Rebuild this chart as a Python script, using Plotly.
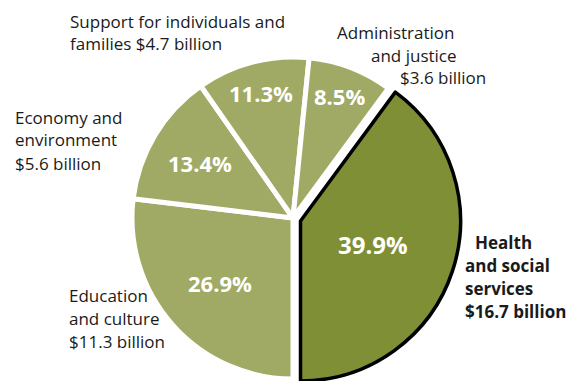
import math
import plotly.graph_objects as go

# Spending by mission, share of total program spending
categories = [
    "Health and social services",
    "Education and culture",
    "Economy and environment",
    "Support for individuals and families",
    "Administration and justice",
]
shares_pct = [39.9, 26.9, 13.4, 11.3, 8.5]
spending_bn = [16.7, 11.3, 5.6, 4.7, 3.6]

# how each outside label is broken into lines ({b} = amount in billions)
label_lines = [
    ["Health", "and social", "services", "${b} billion"],
    ["Education", "and culture", "${b} billion"],
    ["Economy and", "environment", "${b} billion"],
    ["Support for individuals and", "families ${b} billion"],
    ["Administration", "and justice", "${b} billion"],
]

W, H = 568, 381
LIGHT = "#a1aa65"
DARK = "#7f8f35"
CLEAR = "rgba(0,0,0,0)"
FONT = "Open Sans"

# the health slice closes at 6 o'clock; slices run clockwise
rotation = 180 - shares_pct[0] * 3.6

R = 161
main_c = (293, 218)      # pixel centre of the pie
health_c = (300.5, 221)  # centre of the pulled-out health slice
health_r = 160


def domain(c, r):
    cx, cy = c
    return dict(x=[(cx - r) / W, (cx + r) / W],
                y=[max(0, 1 - (cy + r) / H), min(1, 1 - (cy - r) / H)])


n = len(shares_pct)
fig = go.Figure()

# light slices, separated by white borders
fig.add_trace(go.Pie(
    values=shares_pct, labels=categories, sort=False, direction="clockwise",
    rotation=rotation, textinfo="none", hoverinfo="label+percent",
    showlegend=False, domain=domain(main_c, R),
    marker=dict(colors=[CLEAR] + [LIGHT] * (n - 1),
                line=dict(color="white", width=[0] + [5] * (n - 1))),
))

# the health slice, outlined in black and set apart from the rest
fig.add_trace(go.Pie(
    values=shares_pct, labels=categories, sort=False, direction="clockwise",
    rotation=rotation, textinfo="none", hoverinfo="label+percent",
    showlegend=False, domain=domain(health_c, health_r),
    marker=dict(colors=[DARK] + [CLEAR] * (n - 1),
                line=dict(color="black", width=[3.5] + [0] * (n - 1))),
))

annotations = []

# percentage labels inside the slices, placed along each slice's mid-angle
radial_frac = [0.475, 0.61, 0.67, 0.80, 0.81]
pct_size = [24, 22, 22, 22, 22]
start = rotation
for i, p in enumerate(shares_pct):
    mid = math.radians(start + p * 3.6 / 2)
    start += p * 3.6
    (cx, cy), r = (health_c, health_r) if i == 0 else (main_c, R)
    px = cx + radial_frac[i] * r * math.sin(mid)
    py = cy - radial_frac[i] * r * math.cos(mid)
    annotations.append(dict(
        x=px / W, y=1 - py / H, xref="paper", yref="paper",
        text=f"<b>{p}%</b>", showarrow=False, xanchor="center", yanchor="middle",
        font=dict(family=FONT, size=pct_size[i], color="white"),
    ))

# outside labels: left edge of each line and centre of the first line
label_anchor = [
    ([473, 463, 463, 463], 242, True),
    ([67, 67, 67], 295, False),
    ([13, 13, 13], 117, False),
    ([68, 68], 21, False),
    ([335, 369, 398], 32, False),
]
line_gap = 23
for lines, b, (xs, y0, bold) in zip(label_lines, spending_bn, label_anchor):
    for k, (line, x) in enumerate(zip(lines, xs)):
        t = line.replace("{b}", f"{b}")
        annotations.append(dict(
            x=x / W, y=1 - (y0 + k * line_gap) / H, xref="paper", yref="paper",
            text=f"<b>{t}</b>" if bold else t, showarrow=False,
            xanchor="left", yanchor="middle",
            font=dict(family=FONT, size=17, color="#1a1a1a"),
        ))

fig.update_layout(
    width=W, height=H, margin=dict(l=0, r=0, t=0, b=0),
    paper_bgcolor="white", plot_bgcolor="white",
    annotations=annotations,
)

fig.write_html("out.html")
